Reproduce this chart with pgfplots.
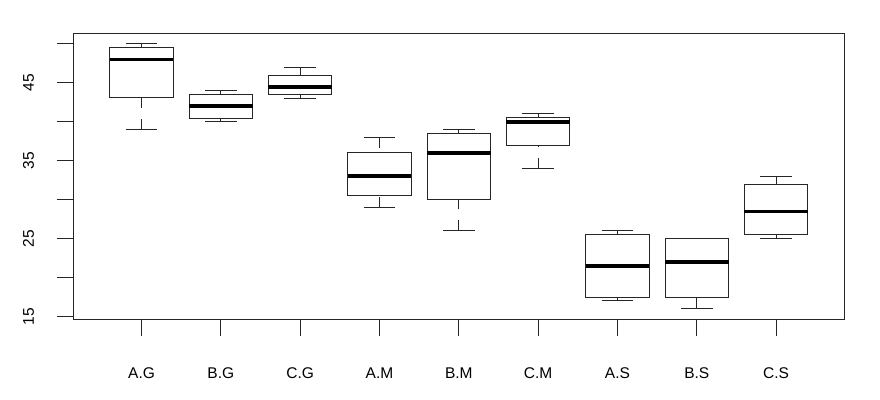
\documentclass[border=0pt]{standalone}
\usepackage{pgfplots}
\pgfplotsset{compat=1.18}
\usepackage{fontspec}
\setmainfont{Liberation Sans}
\pgfplotsset{
  boxline/.style={draw=black!85, line width=1pt, line join=miter},
  medline/.style={draw=black, line width=3.6pt},
  whiskline/.style={draw=black!85, line width=1pt, dash pattern=on 10.7pt off 10.7pt},
}
% \rbox{position}{lower whisker}{lower quartile}{median}{upper quartile}{upper whisker}
\newcommand\rbox[6]{%
  \pgfmathsetmacro\xl{#1-0.4}\pgfmathsetmacro\xr{#1+0.4}%
  \pgfmathsetmacro\cl{#1-0.2}\pgfmathsetmacro\cr{#1+0.2}%
  \edef\temp{%
    \noexpand\addplot[whiskline] coordinates {(#1,#2) (#1,#3)};
    \noexpand\addplot[whiskline] coordinates {(#1,#6) (#1,#5)};
    \noexpand\addplot[boxline] coordinates {(\cl,#2) (\cr,#2)};
    \noexpand\addplot[boxline] coordinates {(\cl,#6) (\cr,#6)};
    \noexpand\addplot[boxline] coordinates {(\xl,#3) (\xr,#3) (\xr,#5) (\xl,#5)} -- cycle;
    \noexpand\addplot[medline] coordinates {(\xl,#4) (\xr,#4)};
  }%
  \temp
}
\begin{document}
\begin{tikzpicture}
\path[use as bounding box] (0,0) rectangle (880pt,399pt);
\begin{axis}[
  at={(73.3pt,79.7pt)}, anchor=south west,
  scale only axis, width=771pt, height=286pt,
  xmin=0.14, xmax=9.86, ymin=14.64, ymax=51.36,
  axis line style={line width=1pt, black!85},
  tick pos=left, tick align=outside, major tick length=16.6pt,
  every tick/.style={line width=1pt, black!85},
  xtick={1,...,9},
  xticklabels={A.G,B.G,C.G,A.M,B.M,C.M,A.S,B.S,C.S},
  ytick={15,20,...,50},
  yticklabels={15,,25,,35,,45,},
  tick label style={font=\fontsize{15.5}{18}\selectfont, inner sep=0pt},
  xticklabel style={anchor=north},
  yticklabel style={rotate=90, anchor=south},
  xticklabel shift=32pt,
  yticklabel shift=22.4pt,
]
\rbox{1}{39}{43.1}{48}{49.6}{50}
\rbox{2}{40}{40.4}{42}{43.5}{44}
\rbox{3}{43}{43.5}{44.5}{46}{47}
\rbox{4}{29}{30.5}{33}{36}{38}
\rbox{5}{26}{30}{36}{38.5}{39}
\rbox{6}{34}{37}{40}{40.5}{41}
\rbox{7}{17}{17.5}{21.5}{25.5}{26}
\rbox{8}{16}{17.5}{22}{25}{25}
\rbox{9}{25}{25.5}{28.5}{32}{33}
\end{axis}
\end{tikzpicture}
\end{document}
